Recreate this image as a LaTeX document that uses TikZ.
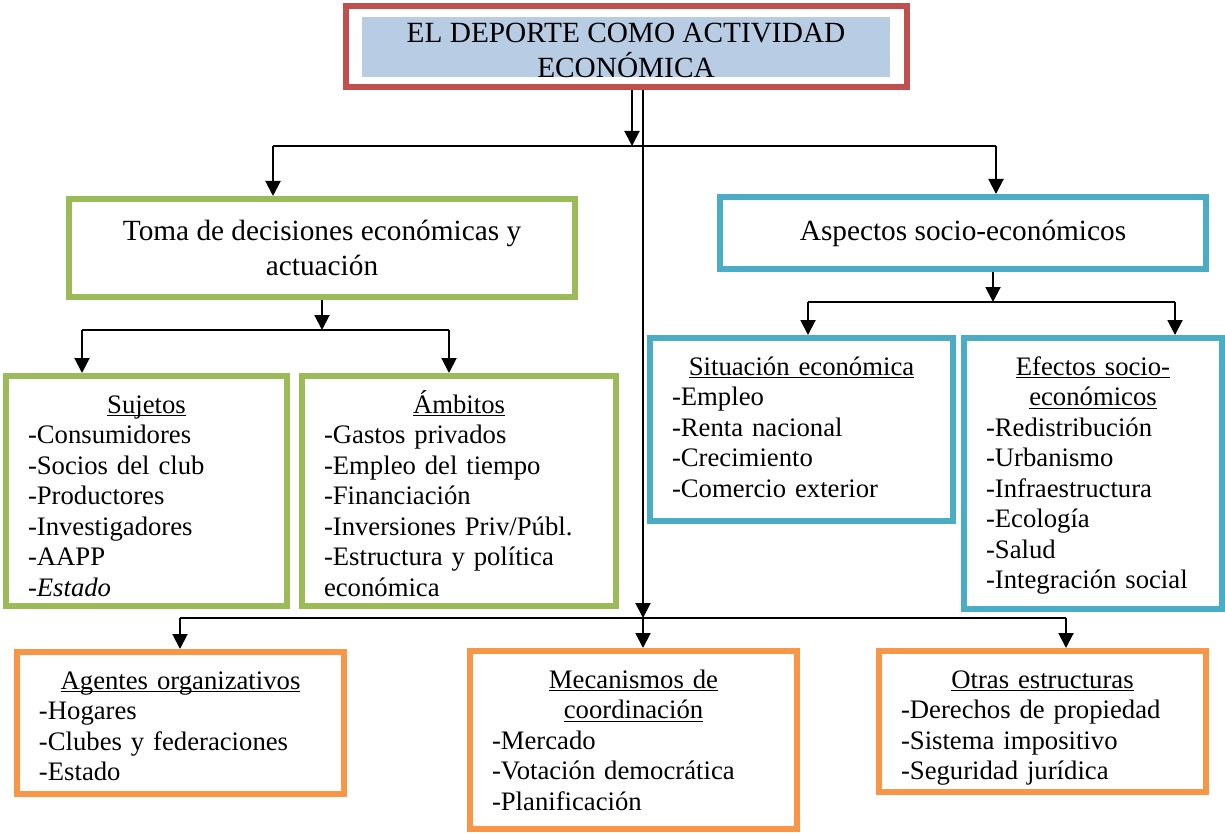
\documentclass[tikz,border=0pt]{standalone}
\usepackage{fontspec}
\setmainfont{Liberation Serif}
\usepackage{tikz}
\usetikzlibrary{arrows.meta}

\definecolor{rojo}{HTML}{C0504D}
\definecolor{celeste}{HTML}{B8CCE4}
\definecolor{verde}{HTML}{9BBB59}
\definecolor{azul}{HTML}{4BACC6}
\definecolor{naranja}{HTML}{F79646}

\newcommand{\cuerpo}{\fontsize{13.35pt}{15.25pt}\selectfont}
\newcommand{\cabeza}{\fontsize{14.65pt}{17.5pt}\selectfont}
\newcommand{\titulo}[1]{\makebox[\linewidth]{\underline{\smash{#1}}}}

\begin{document}
\begin{tikzpicture}[x=0.5pt, y=-0.5pt,
	caja/.style={draw, line width=3pt, inner sep=0pt, align=left, font=\cuerpo, text height=18.5pt},
	cajagrande/.style={draw, line width=3pt, inner sep=0pt, align=center, font=\cabeza},
	linea/.style={line width=0.8pt},
	flecha/.style={-{Triangle[length=7.5pt,width=7.5pt]}, line width=1pt}]
	
	\useasboundingbox (0, 0) rectangle (1225, 834);
	
	\node[draw=rojo, line width=3pt, minimum width=280.5pt, minimum height=40.5pt] (deporte) at (626.5, 46.5) {};
	\node[fill=celeste, minimum width=264pt, minimum height=30pt] (fondo) at (626, 47) {};
	\node[font=\cabeza, align=center, inner sep=0pt, text depth=0pt] (texto) at (626, 50) {EL DEPORTE COMO ACTIVIDAD\\ECONÓMICA};
	
	\node[cajagrande, draw=verde, minimum width=253pt, minimum height=49pt] (toma) at (322, 248) {Toma de decisiones económicas y\\actuación};
	\node[cajagrande, draw=azul, minimum width=243pt, minimum height=36pt] (aspectos) at (963, 233) {Aspectos socio-económicos};
	
	\node[caja, draw=verde, minimum width=140.5pt, text depth=96.5pt, text width=118.5pt] (sujetos) at (146.5, 491) {\titulo{Sujetos}\\-Consumidores\\-Socios del club\\-Productores\\-Investigadores\\-AAPP\\-\textit{Estado}};
	\node[caja, draw=verde, minimum width=157pt, text depth=96.5pt, text width=135pt] (ambitos) at (459, 491) {\titulo{Ámbitos}\\-Gastos privados\\-Empleo del tiempo\\-Financiación\\-Inversiones Priv/Públ.\\-Estructura y política\\económica};
	
	\node[caja, draw=azul, minimum width=151.5pt, text depth=73pt, text width=129.5pt] (situacion) at (801.5, 429.5) {\titulo{Situación económica}\\-Empleo\\-Renta nacional\\-Crecimiento\\-Comercio exterior};
	\node[caja, draw=azul, minimum width=129pt, text depth=117pt, text width=107pt] (efectos) at (1093, 473.5) {\titulo{Efectos socio-}\\\titulo{económicos}\\-Redistribución\\-Urbanismo\\-Infraestructura\\-Ecología\\-Salud\\-Integración social};
	
	\node[caja, draw=naranja, minimum width=163.5pt, text depth=52.5pt, text width=141.5pt] (agentes) at (180.5, 723) {\titulo{Agentes organizativos}\\-Hogares\\-Clubes y federaciones\\-Estado};
	\node[caja, draw=naranja, minimum width=163.5pt, text depth=70.5pt, text width=141.5pt] (mecanismos) at (633.5, 740) {\titulo{Mecanismos de}\\\titulo{coordinación}\\-Mercado\\-Votación democrática\\-Planificación};
	\node[caja, draw=naranja, minimum width=163.5pt, text depth=52pt, text width=141.5pt] (otras) at (1042.5, 721.5) {\titulo{Otras estructuras}\\-Derechos de propiedad\\-Sistema impositivo\\-Seguridad jurídica};
	
	\coordinate (b1) at (632, 146);
	\coordinate (b1i) at (273, 146);
	\coordinate (b1d) at (996, 146);
	\draw[flecha] (deporte.south -| b1) -- (b1);
	\draw[linea] (b1i) -- (b1d);
	\draw[flecha] (b1i) -- (b1i |- toma.north);
	\draw[flecha] (b1d) -- (b1d |- aspectos.north);
	
	\coordinate (b2i) at (82, 330);
	\coordinate (b2d) at (449, 330);
	\draw[flecha] (toma.south) -- (toma.south |- b2i);
	\draw[linea] (b2i) -- (b2d);
	\draw[flecha] (b2i) -- (b2i |- sujetos.north);
	\draw[flecha] (b2d) -- (b2d |- ambitos.north);
	
	\coordinate (b4) at (993, 302);
	\coordinate (b4i) at (808, 302);
	\coordinate (b4d) at (1175, 302);
	\draw[flecha] (aspectos.south -| b4) -- (b4);
	\draw[linea] (b4i) -- (b4d);
	\draw[flecha] (b4i) -- (b4i |- situacion.north);
	\draw[flecha] (b4d) -- (b4d |- efectos.north);
	
	\coordinate (b3) at (643, 618);
	\coordinate (b3i) at (180, 618);
	\coordinate (b3d) at (1066, 618);
	\draw[flecha] (deporte.south -| b3) -- (b3);
	\draw[linea] (b3i) -- (b3d);
	\draw[flecha] (b3i) -- (b3i |- agentes.north);
	\draw[flecha] (b3) -- (b3 |- mecanismos.north);
	\draw[flecha] (b3d) -- (b3d |- otras.north);
	
\end{tikzpicture}
\end{document}
